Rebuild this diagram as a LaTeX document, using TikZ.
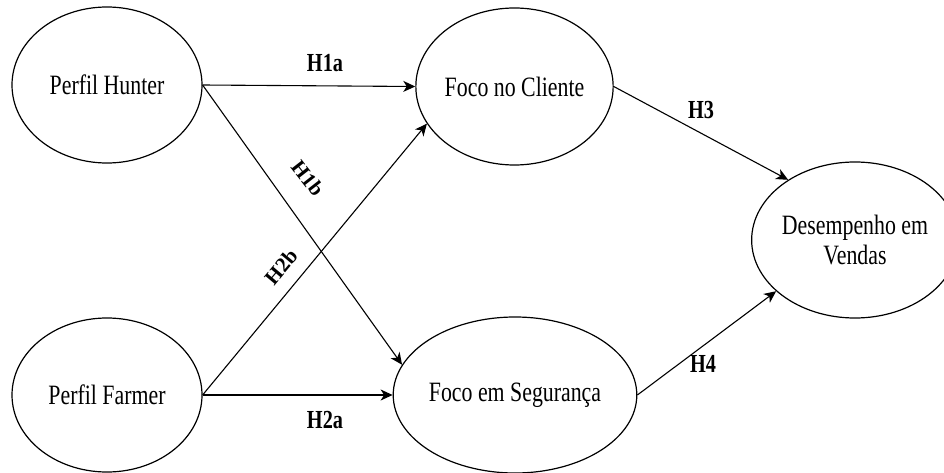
\documentclass[tikz,border=0pt]{standalone}
\usepackage{fontspec}
\setmainfont[FakeStretch=0.78]{Liberation Serif}
\newfontfamily\plainserif{Liberation Serif}
\usetikzlibrary{shapes.geometric,arrows.meta}

\tikzset{
  construct/.style={ellipse, draw, line width=1.2pt, inner sep=0pt,
    align=center, font=\fontsize{28}{30}\selectfont},
  path/.style={line width=1.1pt, -{Stealth[length=12pt,width=11pt,inset=3.5pt]}},
  hyp/.style={font=\fontsize{26}{28}\selectfont\bfseries, inner sep=1pt},
  hypslant/.style={font=\plainserif\fontsize{21}{24}\selectfont\bfseries, inner sep=1pt}
}

\begin{document}
\begin{tikzpicture}[x=1pt,y=-1pt]
  \useasboundingbox (0,0) rectangle (944,473);

  % constructs
  \node[construct, minimum width=190pt, minimum height=156pt] (hunter) at (107,85) {Perfil Hunter};
  \node[construct, minimum width=190pt, minimum height=154pt] (farmer) at (107,395) {Perfil Farmer};
  \node[construct, minimum width=191pt, minimum height=157pt] (cliente) at (514.5,86.5) {Foco no Cliente};
  \node[construct, minimum width=190pt, minimum height=156pt] (seguranca) at (515,395) {Foco em Segurança};
  \node[construct, minimum width=176pt, minimum height=156pt] (vendas) at (855,240) {Desempenho em\\Vendas};

  % hypothesised paths
  \draw[path] (hunter.east) -- (cliente.west);
  \draw[path] (hunter.east) -- (seguranca.165.7);
  \draw[path] (farmer.east) -- (seguranca.west);
  \draw[path] (farmer.east) -- (cliente.203.7);
  \draw[path] (cliente.east) -- (vendas.138.4);
  \draw[path] (seguranca.east) -- (vendas.213);

  % path labels
  \node[hyp] (h1a) at (325,63) {H1a};
  \node[hypslant, rotate=-52] (h1b) at (308,178) {H1b};
  \node[hyp] (h2a) at (325,420) {H2a};
  \node[hypslant, rotate=50] (h2b) at (281,267) {H2b};
  \node[hyp] (h3) at (701,110) {H3};
  \node[hyp] (h4) at (703,364) {H4};
\end{tikzpicture}
\end{document}
